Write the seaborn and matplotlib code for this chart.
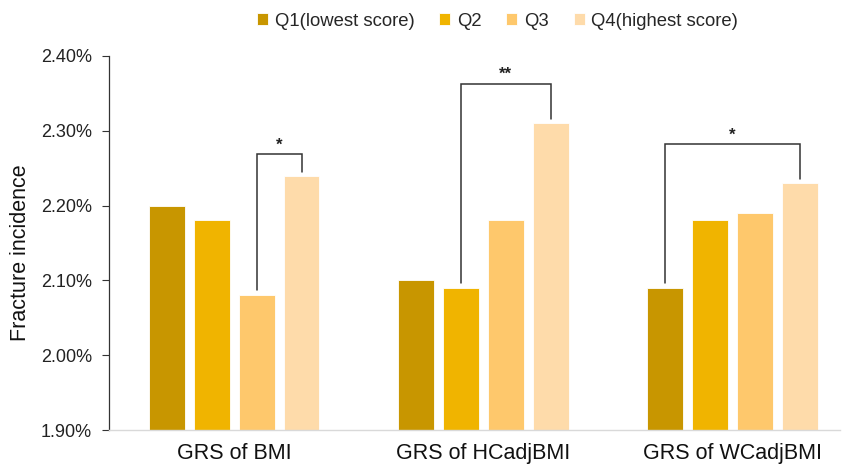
import matplotlib
matplotlib.use("Agg")
import matplotlib.pyplot as plt
import seaborn as sns
import pandas as pd

# Fracture incidence (%) by quartile of genetic risk score
groups = ["GRS of BMI", "GRS of HCadjBMI", "GRS of WCadjBMI"]
quartiles = ["Q1(lowest score)", "Q2", "Q3", "Q4(highest score)"]
q1 = [2.20, 2.10, 2.09]
q2 = [2.18, 2.09, 2.18]
q3 = [2.08, 2.18, 2.19]
q4 = [2.24, 2.31, 2.23]
colors = ["#C89600", "#F0B400", "#FEC86C", "#FEDBAA"]

# significance brackets: (group index, quartile from, quartile to, label, bracket level)
brackets = [
    (0, 2, 3, "*", 2.269),
    (1, 1, 3, "**", 2.363),
    (2, 0, 3, "*", 2.282),
]

rows = []
for qname, vals in zip(quartiles, [q1, q2, q3, q4]):
    for g, v in zip(groups, vals):
        rows.append({"group": g, "quartile": qname, "value": v})
df = pd.DataFrame(rows)

sns.set_style("white")
plt.rcParams["font.family"] = ["Liberation Sans", "DejaVu Sans"]

fig = plt.figure(figsize=(8.43, 4.69), dpi=100)
ax = fig.add_axes([0.129, 0.083, 0.867, 0.798])

sns.barplot(data=df, x="group", y="value", hue="quartile", order=groups,
            hue_order=quartiles, palette=colors, saturation=1, width=0.72, gap=0.2,
            edgecolor="white", linewidth=0.6, ax=ax, legend=True)

ax.set_ylim(1.90, 2.40)
ax.set_xlim(-0.504, 2.43)
yt = [1.90, 2.00, 2.10, 2.20, 2.30, 2.40]
ax.set_yticks(yt)
ax.set_yticklabels([f"{v:.2f}%" for v in yt], fontsize=13, color="#222222")
ax.tick_params(axis="y", direction="out", length=5, width=0.8, color="#333333", left=True, pad=7)
ax.tick_params(axis="x", length=0, labelsize=15.5, pad=9, labelcolor="#111111")
ax.set_xlabel("")
ax.set_ylabel("Fracture incidence", fontsize=15.5, color="#111111")
ax.yaxis.set_label_coords(-0.106, 0.473)

for s in ["top", "right"]:
    ax.spines[s].set_visible(False)
ax.spines["left"].set_color("#333333")
ax.spines["left"].set_linewidth(0.9)
ax.spines["bottom"].set_color("#D9D9D9")
ax.spines["bottom"].set_linewidth(1.0)

# bar centers per (quartile, group) from the drawn patches
bars = [p for p in ax.patches if p.get_height() > 0][:len(groups) * len(quartiles)]
centers = {}
tops = {}
for i, p in enumerate(bars):
    qi, gi = divmod(i, len(groups))
    centers[(qi, gi)] = p.get_x() + p.get_width() / 2
    tops[(qi, gi)] = p.get_y() + p.get_height()

for gi, qa, qb, label, level in brackets:
    xa, xb = centers[(qa, gi)], centers[(qb, gi)]
    ya, yb = tops[(qa, gi)] + 0.007, tops[(qb, gi)] + 0.005
    ax.plot([xa, xa, xb, xb], [ya, level, level, yb], color="#333333", lw=1.1,
            solid_joinstyle="miter", clip_on=False)
    ax.text((xa + xb) / 2, level + 0.002, label, ha="center", va="bottom",
            fontsize=12, fontweight="bold", color="#222222")

leg = ax.legend(loc="center", bbox_to_anchor=(0.532, 1.093), ncol=4, frameon=False,
                fontsize=13.3, handlelength=0.6, handleheight=0.6, handletextpad=0.35,
                columnspacing=1.35)

fig.savefig("out.png", dpi=100)
